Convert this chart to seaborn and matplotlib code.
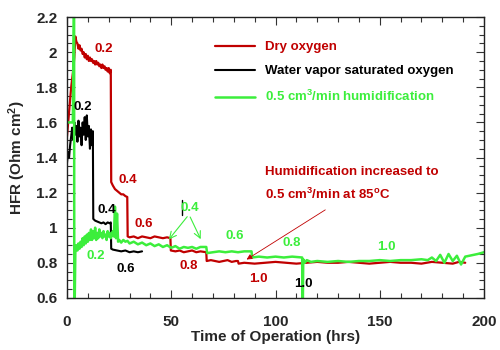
import matplotlib
matplotlib.use("Agg")
import matplotlib.pyplot as plt
from matplotlib.ticker import MultipleLocator
import seaborn as sns

# Dry oxygen (red)
red_t = [0, 1, 2, 3, 3.5, 4, 4.5, 5, 5.5, 6,
         6.5, 7, 7.5, 8, 8.5, 9, 9.5, 10, 10.5, 11,
         11.5, 12, 12.5, 13, 13.5, 14, 14.5, 15, 15.5, 16,
         16.5, 17, 17.5, 18, 18.5, 19, 19.5, 20, 20.5, 21,
         21.2, 22, 23, 24, 25, 26, 27, 28, 28.9, 29.1,
         30, 32, 34, 36, 38, 40, 42, 44, 46, 48,
         49.6, 49.8, 52, 54, 56, 58, 60, 62, 64, 66.8,
         67, 69, 71, 73, 75, 77, 79, 81, 82, 82.3,
         85, 90, 95, 100, 105, 110, 115, 120, 125, 130,
         135, 140, 145, 150, 155, 160, 165, 170, 175, 180,
         185, 188, 191]
red_v = [1.52, 1.66, 1.80, 1.90, 1.97, 2.09, 2.06, 2.05, 2.02, 2.04,
         2.01, 2.02, 1.99, 2.00, 1.97, 1.99, 1.96, 1.98, 1.95, 1.97,
         1.95, 1.96, 1.94, 1.95, 1.93, 1.95, 1.93, 1.94, 1.92, 1.93,
         1.91, 1.93, 1.91, 1.92, 1.90, 1.91, 1.89, 1.91, 1.88, 1.90,
         1.26, 1.24, 1.22, 1.21, 1.20, 1.19, 1.19, 1.18, 1.175, 0.95,
         0.945, 0.95, 0.94, 0.95, 0.945, 0.94, 0.95, 0.945, 0.94, 0.945,
         0.94, 0.87, 0.865, 0.87, 0.86, 0.865, 0.87, 0.86, 0.865, 0.86,
         0.81, 0.815, 0.81, 0.805, 0.81, 0.815, 0.805, 0.81, 0.81, 0.795,
         0.80, 0.795, 0.80, 0.805, 0.80, 0.795, 0.80, 0.805, 0.80, 0.80,
         0.805, 0.80, 0.795, 0.80, 0.805, 0.80, 0.80, 0.795, 0.805, 0.80,
         0.795, 0.805, 0.80]

# Water vapor saturated oxygen (black)
black_t = [0, 0.5, 1, 1.5, 2, 2.5, 3, 3.5, 4, 4.5,
           5, 5.5, 6, 6.5, 7, 7.5, 8, 8.5, 9, 9.5,
           10, 10.5, 11, 11.5, 12, 12.4, 12.6, 13.5, 14.5, 15.5,
           16.5, 17.5, 18.5, 19.5, 20.5, 21, 21.2, 22, 24, 26,
           28, 30, 32, 34, 36]
black_v = [1.37, 1.43, 1.40, 1.47, 1.52, 1.57, 1.50, 1.60, 1.53, 1.58,
           1.49, 1.61, 1.52, 1.57, 1.47, 1.60, 1.53, 1.63, 1.50, 1.64,
           1.52, 1.58, 1.45, 1.56, 1.47, 1.55, 1.05, 1.04, 1.035, 1.03,
           1.025, 1.03, 1.02, 1.03, 1.025, 1.03, 0.88, 0.875, 0.87, 0.865,
           0.87, 0.86, 0.865, 0.86, 0.865]
black_mark_t = [55, 55]
black_mark_v = [1.07, 1.16]

# 0.5 cm3/min humidification (green)
green_t = [0.5, 2.8, 3.4, 3.5, 4, 4.5, 5, 5.5, 6, 6.5,
           7, 7.5, 8, 8.5, 9, 9.5, 10, 10.5, 11, 11.5,
           12, 12.5, 13, 13.5, 14, 14.5, 15, 15.5, 16, 16.5,
           17, 17.5, 18, 18.5, 19, 19.5, 20, 20.5, 21, 21.5,
           22, 22.5, 23, 23.5, 24, 24.5, 25, 26, 27, 28,
           29, 30, 32, 34, 36, 38, 40, 42, 44, 46,
           48, 50, 52, 54, 56, 58, 60, 62, 64, 66.8,
           67.2, 70, 73, 76, 79, 82, 85, 88.5, 88.8, 92,
           96, 100, 104, 108, 112.8, 113, 113.3, 114, 115, 117,
           120, 125, 130, 135, 140, 145, 150, 155, 160, 165,
           170, 173, 175, 177, 179, 181, 183, 185, 187, 189,
           191, 193, 195, 197, 200]
green_v = [1.60, 1.60, 2.40, 0.40, 0.86, 0.90, 0.87, 0.91, 0.88, 0.92,
           0.89, 0.94, 0.90, 0.95, 0.91, 0.96, 0.92, 0.97, 0.93, 0.99,
           0.93, 0.98, 0.94, 1.00, 0.93, 0.97, 0.94, 0.99, 0.95, 0.97,
           0.94, 0.98, 0.95, 0.96, 0.93, 0.98, 0.95, 0.97, 0.94, 0.96,
           0.98, 0.95, 1.12, 0.94, 1.08, 0.92, 0.93, 0.915, 0.93, 0.92,
           0.925, 0.91, 0.92, 0.905, 0.915, 0.90, 0.91, 0.895, 0.905, 0.89,
           0.90, 0.885, 0.895, 0.88, 0.89, 0.885, 0.89, 0.88, 0.89, 0.89,
           0.855, 0.86, 0.865, 0.86, 0.865, 0.86, 0.865, 0.865, 0.83, 0.835,
           0.83, 0.835, 0.83, 0.835, 0.83, 0.40, 0.82, 0.80, 0.815, 0.805,
           0.81, 0.805, 0.81, 0.805, 0.81, 0.81, 0.815, 0.81, 0.815, 0.815,
           0.82, 0.815, 0.83, 0.81, 0.845, 0.80, 0.85, 0.81, 0.84, 0.79,
           0.835, 0.84, 0.845, 0.85, 0.86]

series_labels = ["Dry oxygen", "Water vapor saturated oxygen",
                 "0.5 cm$^{3}$/min humidification"]

# flow-rate labels on the curves: (text, t, hfr, series)
flow_labels = [("0.2", 17.7, 2.02, "red"), ("0.4", 29, 1.27, "red"),
               ("0.6", 37, 1.02, "red"), ("0.8", 58.5, 0.78, "red"),
               ("1.0", 91.7, 0.71, "red"),
               ("0.2", 7.7, 1.69, "black"), ("0.4", 19, 1.10, "black"),
               ("0.6", 28, 0.765, "black"), ("1.0", 113.6, 0.68, "black"),
               ("0.2", 14, 0.84, "green"), ("0.4", 59, 1.11, "green"),
               ("0.6", 80.6, 0.95, "green"), ("0.8", 108, 0.91, "green"),
               ("1.0", 153, 0.89, "green")]

x_ticks = [0, 50, 100, 150, 200]
y_ticks = [0.6, 0.8, 1.0, 1.2, 1.4, 1.6, 1.8, 2.0, 2.2]
y_tick_labels = ["0.6", "0.8", "1", "1.2", "1.4", "1.6", "1.8", "2", "2.2"]

colors = {"red": "#c00000", "black": "#000000", "green": "#3cee3c"}

sns.set_theme(style="ticks")
plt.rcParams["font.family"] = ["Liberation Sans", "DejaVu Sans"]
plt.rcParams["font.weight"] = "bold"
plt.rcParams["mathtext.fontset"] = "custom"
plt.rcParams["mathtext.rm"] = "Liberation Sans:bold"
plt.rcParams["mathtext.bf"] = "Liberation Sans:bold"
plt.rcParams["mathtext.default"] = "bf"

fig = plt.figure(figsize=(5, 3.5), dpi=100)
ax = fig.add_axes([0.134, 0.149, 0.834, 0.802])

sns.lineplot(x=red_t, y=red_v, color=colors["red"], lw=1.6, sort=False,
             estimator=None, label=series_labels[0], ax=ax)
sns.lineplot(x=black_t, y=black_v, color=colors["black"], lw=1.5, sort=False,
             estimator=None, label=series_labels[1], ax=ax)
sns.lineplot(x=green_t, y=green_v, color=colors["green"], lw=1.8, sort=False,
             estimator=None, label=series_labels[2], ax=ax)
sns.lineplot(x=black_mark_t, y=black_mark_v, color=colors["black"], lw=1.0,
             sort=False, estimator=None, ax=ax)

for txt, t, v, c in flow_labels:
    ax.text(t, v, txt, color=colors[c], fontsize=9.5, fontweight="bold",
            ha="center", va="center")

# arrows for the green 0.4 label
for tip in [(48, 0.92), (64.7, 0.92)]:
    ax.annotate("", xy=tip, xytext=(58.5, 1.075),
                arrowprops=dict(arrowstyle="->", color=colors["green"], lw=0.8))

ax.text(136.7, 1.32, "Humidification increased to", color=colors["red"],
        fontsize=9.5, fontweight="bold", ha="center", va="center")
ax.text(95, 1.19, "0.5 cm$^{3}$/min at 85$^{o}$C", color=colors["red"],
        fontsize=9.5, fontweight="bold", ha="left", va="center")
ax.annotate("", xy=(85, 0.81), xytext=(125, 1.11),
            arrowprops=dict(arrowstyle="-|>", color=colors["red"], lw=0.6,
                            mutation_scale=8))

ax.set_xlim(0, 200)
ax.set_ylim(0.6, 2.2)
ax.set_xticks(x_ticks)
ax.set_yticks(y_ticks)
ax.set_yticklabels(y_tick_labels)
ax.xaxis.set_minor_locator(MultipleLocator(10))
ax.yaxis.set_minor_locator(MultipleLocator(0.05))
ax.tick_params(which="both", direction="in", top=True, right=True,
               labelsize=11, width=0.8, color="#333333")
ax.tick_params(which="major", length=6)
ax.tick_params(which="minor", length=3.5)
ax.tick_params(axis="x", which="major", pad=12)
ax.tick_params(axis="y", which="major", pad=7)
for s in ax.spines.values():
    s.set_linewidth(1.0)
    s.set_color("#222222")

ax.set_xlabel("Time of Operation (hrs)", fontsize=11, fontweight="bold",
              labelpad=1)
ax.set_ylabel("HFR (Ohm cm$^{2}$)", fontsize=11, fontweight="bold",
              labelpad=6)

ax.legend(loc="upper left", bbox_to_anchor=(0.355, 0.915), frameon=False,
          labelcolor="linecolor", prop={"size": 9.5, "weight": "bold"},
          handlelength=3.0, handletextpad=0.8, labelspacing=0.9,
          borderpad=0, borderaxespad=0)

fig.savefig("out.png", dpi=100)
